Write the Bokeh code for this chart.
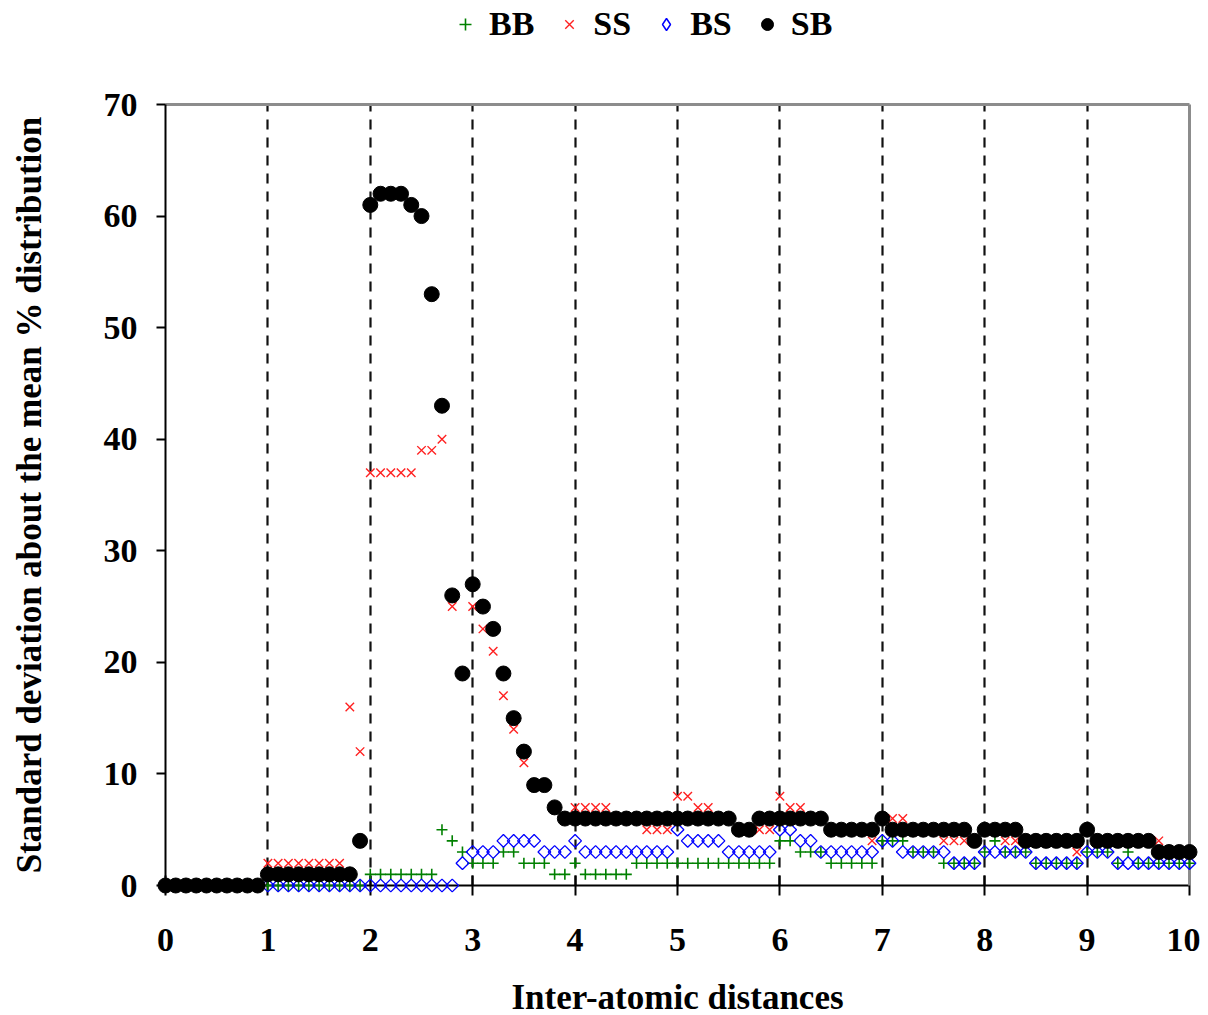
import numpy as np
from bokeh.plotting import figure
from bokeh.layouts import column
from bokeh.models import (ColumnDataSource, Legend, LegendItem, LinearAxis, FixedTicker, Range1d)
from bokeh.embed import file_html
from bokeh.resources import INLINE

# ---------------- data ----------------
distances = [round(i * 0.1, 1) for i in range(101)]

BB = [0, 0, 0, 0, 0, 0, 0, 0, 0, 0,
      0, 0, 0, 0, 0, 0, 0, 0, 0, 0,
      1, 1, 1, 1, 1, 1, 1, 5, 4, 3,
      2, 2, 2, 3, 3, 2, 2, 2, 1, 1,
      2, 1, 1, 1, 1, 1, 2, 2, 2, 2,
      2, 2, 2, 2, 2, 2, 2, 2, 2, 2,
      4, 4, 3, 3, 3, 2, 2, 2, 2, 2,
      4, 4, 4, 3, 3, 3, 2, 2, 2, 2,
      3, 4, 3, 3, 3, 2, 2, 2, 2, 2,
      3, 3, 3, 2, 3, 2, 2, 2, 2, 2,
      2]

SS = [0, 0, 0, 0, 0, 0, 0, 0, 0, 0,
      2, 2, 2, 2, 2, 2, 2, 2, 16, 12,
      37, 37, 37, 37, 37, 39, 39, 40, 25, 19,
      25, 23, 21, 17, 14, 11, 9, 9, 7, 6,
      7, 7, 7, 7, 6, 6, 6, 5, 5, 5,
      8, 8, 7, 7, 6, 6, 5, 5, 5, 5,
      8, 7, 7, 6, 6, 5, 5, 5, 5, 4,
      6, 6, 6, 5, 5, 5, 4, 4, 4, 4,
      5, 5, 4, 4, 4, 4, 4, 4, 4, 3,
      5, 4, 4, 4, 4, 4, 4, 4, 3, 3,
      3]

BS = [0, 0, 0, 0, 0, 0, 0, 0, 0, 0,
      0, 0, 0, 0, 0, 0, 0, 0, 0, 0,
      0, 0, 0, 0, 0, 0, 0, 0, 0, 2,
      3, 3, 3, 4, 4, 4, 4, 3, 3, 3,
      4, 3, 3, 3, 3, 3, 3, 3, 3, 3,
      5, 4, 4, 4, 4, 3, 3, 3, 3, 3,
      5, 5, 4, 4, 3, 3, 3, 3, 3, 3,
      4, 4, 3, 3, 3, 3, 3, 2, 2, 2,
      3, 3, 3, 3, 3, 2, 2, 2, 2, 2,
      3, 3, 3, 2, 2, 2, 2, 2, 2, 2,
      2]

SB = [0, 0, 0, 0, 0, 0, 0, 0, 0, 0,
      1, 1, 1, 1, 1, 1, 1, 1, 1, 4,
      61, 62, 62, 62, 61, 60, 53, 43, 26, 19,
      27, 25, 23, 19, 15, 12, 9, 9, 7, 6,
      6, 6, 6, 6, 6, 6, 6, 6, 6, 6,
      6, 6, 6, 6, 6, 6, 5, 5, 6, 6,
      6, 6, 6, 6, 6, 5, 5, 5, 5, 5,
      6, 5, 5, 5, 5, 5, 5, 5, 5, 4,
      5, 5, 5, 5, 4, 4, 4, 4, 4, 4,
      5, 4, 4, 4, 4, 4, 4, 3, 3, 3,
      3]

series_names = ["BB", "SS", "BS", "SB"]
x_ticks = list(range(0, 11))
y_ticks = list(range(0, 71, 10))
grid_ticks = list(range(1, 10))

FONT = "Liberation Serif"

STYLES = {
    "BB": dict(marker="cross", size=11, line_color="#008000", line_width=1.6),
    "SS": dict(marker="x", size=12, line_color="#ff2020", line_width=1.4),
    "BS": dict(marker="square", angle=np.pi / 4, size=9, line_color="#0000ff",
               line_width=1.3, fill_color=None),
    "SB": dict(marker="circle", size=15, line_color="black", fill_color="black"),
}
LEGEND_STYLES = dict(STYLES)
LEGEND_STYLES["BS"] = dict(marker="diamond", size=9, line_color="#0000ff",
                           line_width=1.5, fill_color=None)

data = dict(x=distances, BB=BB, SS=SS, BS=BS, SB=SB)
src = ColumnDataSource(data)

LEG_H = 64
p = figure(frame_width=1024, frame_height=781,
           x_range=Range1d(0, 10), y_range=Range1d(0, 70),
           output_backend="svg", toolbar_location=None,
           min_border_left=165, min_border_top=104 - LEG_H, min_border_right=11,
           min_border_bottom=122,
           background_fill_color="white", border_fill_color="white")
p.outline_line_color = None

# grid
p.ygrid.grid_line_color = None
p.xgrid.ticker = FixedTicker(ticks=grid_ticks)
p.xgrid.grid_line_color = "#111111"
p.xgrid.grid_line_width = 2.2
p.xgrid.grid_line_dash = "10 8"

# axes
for ax in (p.xaxis[0], p.yaxis[0]):
    ax.axis_line_color = "black"
    ax.axis_line_width = 2
    ax.major_tick_line_color = "black"
    ax.major_tick_line_width = 2
    ax.minor_tick_line_color = None
    ax.major_label_text_font = FONT
    ax.major_label_text_font_style = "bold"
    ax.major_label_text_font_size = "34px"
    ax.major_label_text_color = "black"
    ax.axis_label_text_font = FONT
    ax.axis_label_text_font_style = "bold"
    ax.axis_label_text_color = "black"
    ax.axis_label_text_font_size = "35px"

p.xaxis.ticker = FixedTicker(ticks=x_ticks)
p.yaxis.ticker = FixedTicker(ticks=y_ticks)
p.xaxis.major_tick_out = 10
p.xaxis.major_tick_in = 10
p.yaxis.major_tick_out = 9
p.yaxis.major_tick_in = 0
p.xaxis.major_label_standoff = 33
p.yaxis.major_label_standoff = 19
p.xaxis.axis_label = "Inter-atomic distances"
p.yaxis.axis_label = "Standard deviation about the mean % distribution"
p.xaxis.axis_label_standoff = 24
p.yaxis.axis_label_standoff = 52

# gray frame lines on top and right
for side in ("above", "right"):
    ax = LinearAxis(ticker=FixedTicker(ticks=[]))
    ax.axis_line_color = "#8c8c8c"
    ax.axis_line_width = 3
    ax.major_tick_line_color = None
    ax.minor_tick_line_color = None
    ax.major_label_text_font_size = "0px"
    ax.major_label_standoff = 0
    ax.major_tick_out = 0
    ax.major_tick_in = 0
    p.add_layout(ax, side)

# series (drawn in order, last on top)
for name in series_names:
    p.scatter("x", name, source=src, level="overlay", **STYLES[name])

# legend strip above the chart (its helper renderers sit outside its visible range)
lf = figure(width=1200, height=LEG_H, x_range=Range1d(-3, -2), y_range=Range1d(-3, -2),
            output_backend="svg", toolbar_location=None,
            min_border=0, background_fill_color="white", border_fill_color="white")
lf.outline_line_color = None
lf.xaxis.visible = False
lf.yaxis.visible = False
lf.grid.visible = False
leg_src = ColumnDataSource({k: v[:1] for k, v in data.items()})
items = []
for name in series_names:
    r = lf.scatter("x", name, source=leg_src, **LEGEND_STYLES[name])
    items.append(LegendItem(label=name, renderers=[r]))
legend = Legend(items=items, orientation="horizontal", location=(285, 21),
                label_text_font=FONT, label_text_font_style="bold",
                label_text_font_size="34px", label_text_color="black",
                glyph_width=30, glyph_height=34, label_standoff=9, spacing=20,
                padding=0, margin=0, border_line_color=None,
                background_fill_alpha=0)
lf.add_layout(legend, "center")

open("out.html", "w").write(file_html(column(lf, p, spacing=0), INLINE))
